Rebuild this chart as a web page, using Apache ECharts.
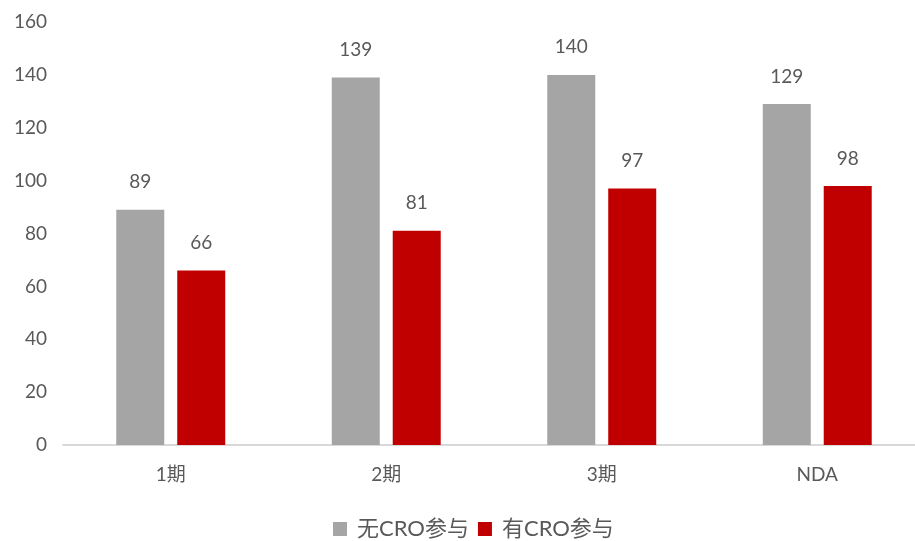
<!DOCTYPE html>
<html>
<head>
<meta charset="utf-8">
<script src="https://cdn.jsdelivr.net/npm/echarts@6/dist/echarts.min.js"></script>
<style>
  html, body { margin: 0; padding: 0; background: #fff; overflow: hidden; }
  #chart { width: 925px; height: 541px; }
</style>
</head>
<body>
<div id="chart"></div>
<script>
// Phases of clinical development
const categories = ['1期', '2期', '3期', 'NDA'];
// Values for trials without / with CRO involvement
const seriesNames = ['无CRO参与', '有CRO参与'];
const withoutCro = [89, 139, 140, 129];
const withCro = [66, 81, 97, 98];
const yTicks = [0, 20, 40, 60, 80, 100, 120, 140, 160];

const font = 'Lato, "Noto Sans CJK SC", sans-serif';
const textColor = '#595959';
const squareIcon = 'path://M0,0H10V10H0Z';

const chart = echarts.init(document.getElementById('chart'), null, { renderer: 'canvas' });
chart.setOption({
  animation: false,
  textStyle: { fontFamily: font },
  grid: { left: 63, right: 0, top: 22, bottom: 96 },
  legend: {
    top: 513,
    left: 328,
    itemWidth: 24,
    itemHeight: 14,
    itemGap: 9,
    icon: squareIcon,
    textStyle: { fontSize: 22, color: textColor, fontFamily: font },
    data: seriesNames
  },
  xAxis: {
    type: 'category',
    data: categories,
    axisLine: { lineStyle: { color: '#d9d9d9', width: 2 } },
    axisTick: { show: false },
    axisLabel: { fontSize: 19, color: textColor, margin: 20, fontFamily: font }
  },
  yAxis: {
    type: 'value',
    min: yTicks[0],
    max: yTicks[yTicks.length - 1],
    interval: 20,
    splitLine: { show: false },
    axisLine: { show: false },
    axisTick: { show: false },
    axisLabel: { fontSize: 19, color: textColor, margin: 16, fontFamily: font }
  },
  series: [
    {
      name: seriesNames[0],
      type: 'bar',
      data: withoutCro,
      barWidth: 48,
      barGap: '27%',
      itemStyle: { color: '#a5a5a5' },
      label: { show: true, position: 'top', distance: 18, fontSize: 19, color: textColor, fontFamily: font }
    },
    {
      name: seriesNames[1],
      type: 'bar',
      data: withCro,
      barWidth: 48,
      barGap: '27%',
      itemStyle: { color: '#c00000' },
      label: { show: true, position: 'top', distance: 18, fontSize: 19, color: textColor, fontFamily: font }
    }
  ]
});
</script>
</body>
</html>
